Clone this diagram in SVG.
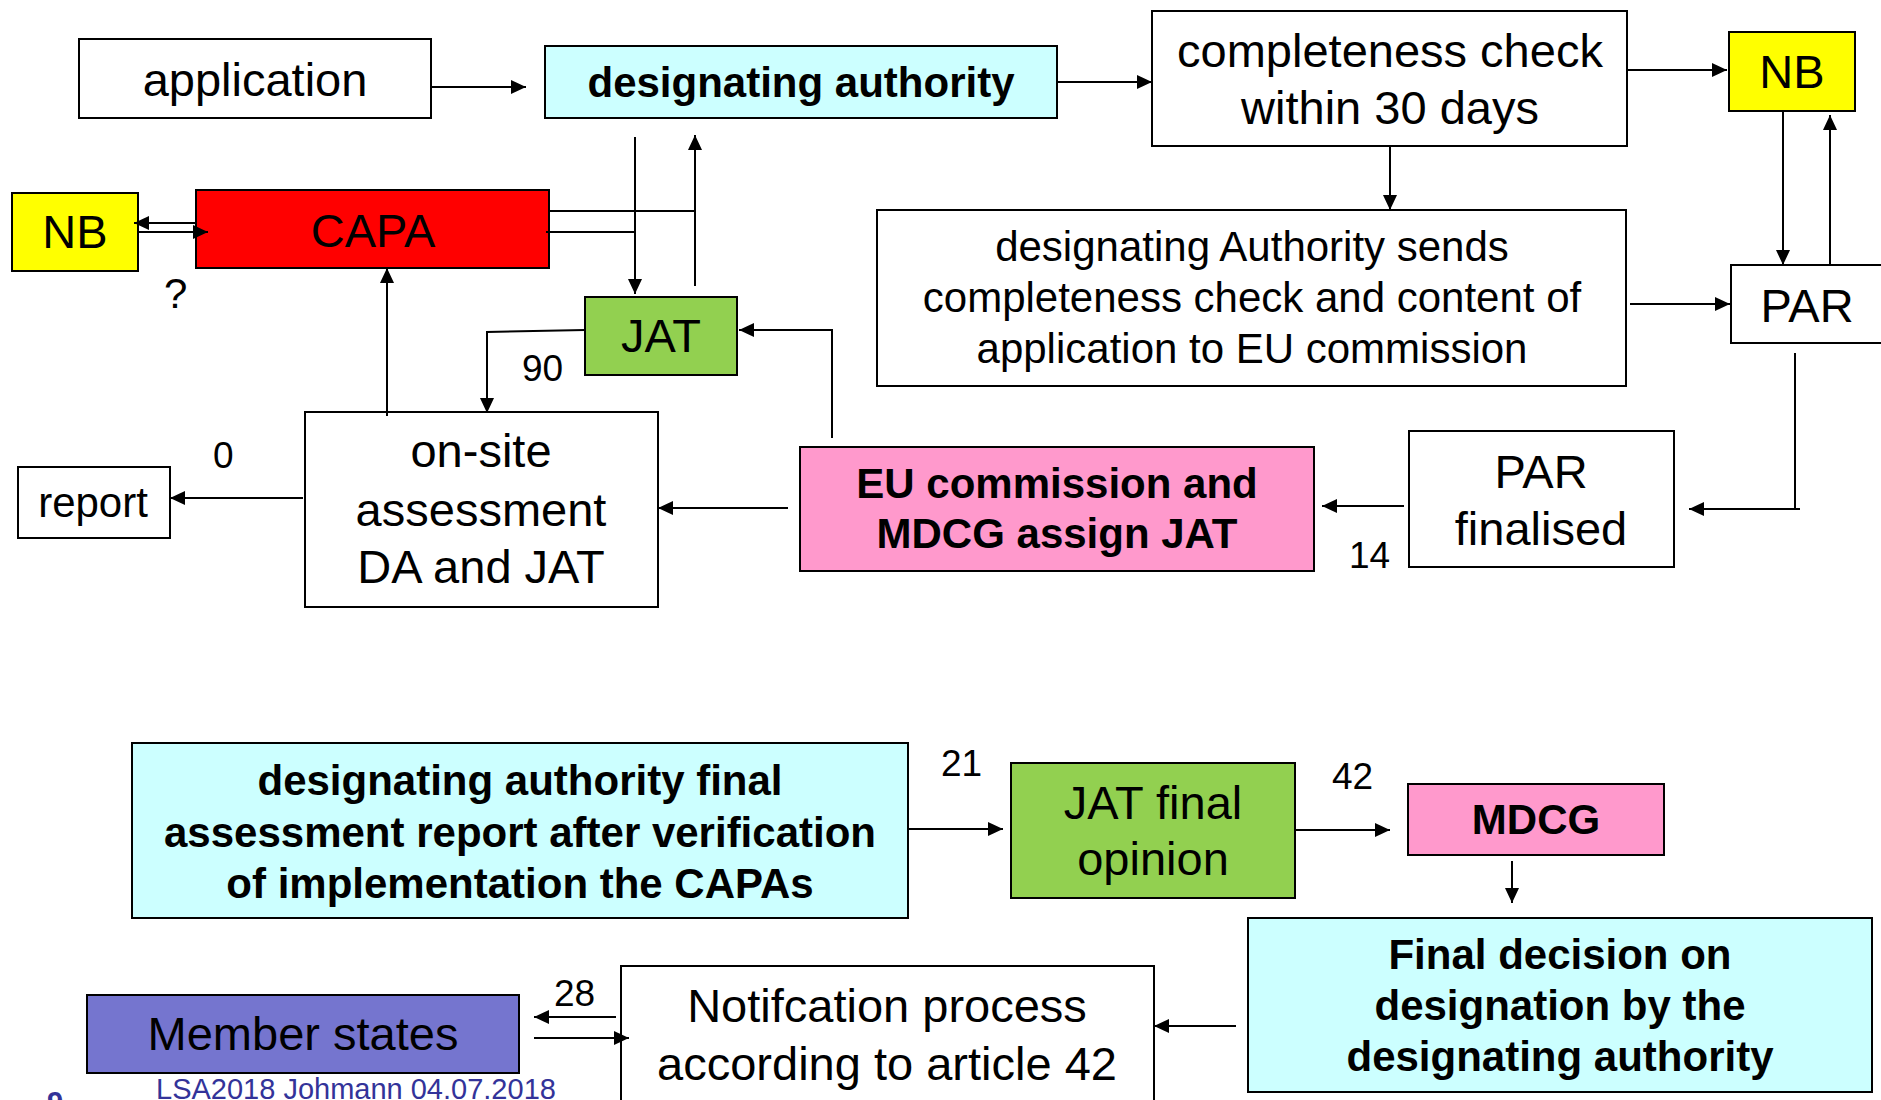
<svg xmlns="http://www.w3.org/2000/svg" width="1881" height="1100" viewBox="0 0 1881 1100">
  <style>
    .box { stroke: #000; stroke-width: 2; }
    .white { fill: #fff; }
    .cyan { fill: #ccffff; }
    .pink { fill: #ff99cc; }
    .green { fill: #92d050; }
    .red { fill: #ff0000; }
    .yellow { fill: #ffff00; }
    .violet { fill: #7575cf; }
    text { font-family: "Liberation Sans", Arial, sans-serif; fill: #000; text-anchor: middle; }
    .n { font-size: 47px; }
    .m { font-size: 42px; }
    .b { font-size: 42px; font-weight: bold; }
    .lbl { font-size: 37px; text-anchor: start; }
    .foot { font-size: 29px; fill: #333399; text-anchor: start; }
    .conn path { fill: none; stroke: #000; stroke-width: 2; }
  </style>
  <defs>
    <marker id="arrow" markerUnits="userSpaceOnUse" markerWidth="16" markerHeight="14" refX="15" refY="7" orient="auto">
      <path d="M0,0 L15,7 L0,14 z" fill="#000"/>
    </marker>
  </defs>

  <rect width="1881" height="1100" fill="#fff"/>

  <!-- upper process -->
  <g id="application">
    <rect class="box white" x="79" y="39" width="352" height="79"/>
    <text class="n" x="255" y="96">application</text>
  </g>
  <g id="designating-authority">
    <rect class="box cyan" x="545" y="46" width="512" height="72"/>
    <text class="b" x="801" y="97">designating authority</text>
  </g>
  <g id="completeness-check">
    <rect class="box white" x="1152" y="11" width="475" height="135"/>
    <text class="n" x="1390" y="67">completeness check</text>
    <text class="n" x="1390" y="124">within 30 days</text>
  </g>
  <g id="nb-top">
    <rect class="box yellow" x="1729" y="32" width="126" height="79"/>
    <text class="n" x="1792" y="88">NB</text>
  </g>
  <g id="par">
    <rect class="box white" x="1731" y="265" width="170" height="78"/>
    <text class="n" x="1807" y="322">PAR</text>
  </g>
  <g id="da-sends">
    <rect class="box white" x="877" y="210" width="749" height="176"/>
    <text class="m" x="1252" y="261">designating Authority sends</text>
    <text class="m" x="1252" y="312">completeness check and content of</text>
    <text class="m" x="1252" y="363">application to EU commission</text>
  </g>
  <g id="par-finalised">
    <rect class="box white" x="1409" y="431" width="265" height="136"/>
    <text class="n" x="1541" y="488">PAR</text>
    <text class="n" x="1541" y="545">finalised</text>
  </g>
  <g id="eu-commission">
    <rect class="box pink" x="800" y="447" width="514" height="124"/>
    <text class="b" x="1057" y="498">EU commission and</text>
    <text class="b" x="1057" y="548">MDCG assign JAT</text>
  </g>
  <g id="jat">
    <rect class="box green" x="585" y="297" width="152" height="78"/>
    <text class="n" x="661" y="352">JAT</text>
  </g>
  <g id="capa">
    <rect class="box red" x="196" y="190" width="353" height="78"/>
    <text class="n" x="373" y="247">CAPA</text>
  </g>
  <g id="nb-left">
    <rect class="box yellow" x="12" y="193" width="126" height="78"/>
    <text class="n" x="75" y="248">NB</text>
  </g>
  <g id="on-site">
    <rect class="box white" x="305" y="412" width="353" height="195"/>
    <text class="n" x="481" y="467">on-site</text>
    <text class="n" x="481" y="526">assessment</text>
    <text class="n" x="481" y="583">DA and JAT</text>
  </g>
  <g id="report">
    <rect class="box white" x="18" y="467" width="152" height="71"/>
    <text class="m" x="93" y="517">report</text>
  </g>

  <!-- lower process -->
  <g id="da-final">
    <rect class="box cyan" x="132" y="743" width="776" height="175"/>
    <text class="b" x="520" y="795">designating authority final</text>
    <text class="b" x="520" y="847">assessment report after verification</text>
    <text class="b" x="520" y="898">of implementation the CAPAs</text>
  </g>
  <g id="jat-final">
    <rect class="box green" x="1011" y="763" width="284" height="135"/>
    <text class="n" x="1153" y="819">JAT final</text>
    <text class="n" x="1153" y="875">opinion</text>
  </g>
  <g id="mdcg">
    <rect class="box pink" x="1408" y="784" width="256" height="71"/>
    <text class="b" x="1536" y="834">MDCG</text>
  </g>
  <g id="final-decision">
    <rect class="box cyan" x="1248" y="918" width="624" height="174"/>
    <text class="b" x="1560" y="969">Final decision on</text>
    <text class="b" x="1560" y="1020">designation by the</text>
    <text class="b" x="1560" y="1071">designating authority</text>
  </g>
  <g id="notification">
    <rect class="box white" x="621" y="966" width="533" height="200"/>
    <text class="n" x="887" y="1022">Notifcation process</text>
    <text class="n" x="887" y="1080">according to article 42</text>
  </g>
  <g id="member-states">
    <rect class="box violet" x="87" y="995" width="432" height="78"/>
    <text class="n" x="303" y="1050">Member states</text>
  </g>

  <!-- connectors -->
  <g id="connectors" class="conn">
    <path d="M431,87 H526" marker-end="url(#arrow)"/>
    <path d="M1057,82 H1152" marker-end="url(#arrow)"/>
    <path d="M1627,70 H1727" marker-end="url(#arrow)"/>
    <path d="M1390,146 V210" marker-end="url(#arrow)"/>
    <path d="M1783,111 V265" marker-end="url(#arrow)"/>
    <path d="M1830,265 V115" marker-end="url(#arrow)"/>
    <path d="M1630,304 H1730" marker-end="url(#arrow)"/>
    <path d="M1795,353 V509 M1800,509 H1689" marker-end="url(#arrow)"/>
    <path d="M1404,506 H1322" marker-end="url(#arrow)"/>
    <path d="M788,508 H658" marker-end="url(#arrow)"/>
    <path d="M832,438 V330 H739" marker-end="url(#arrow)"/>
    <path d="M585,330 L487,332 V413" marker-end="url(#arrow)"/>
    <path d="M387,416 V268" marker-end="url(#arrow)"/>
    <path d="M303,498 H170" marker-end="url(#arrow)"/>
    <path d="M196,223 H134" marker-end="url(#arrow)"/>
    <path d="M138,232 H208" marker-end="url(#arrow)"/>
    <path d="M546,232 H635"/>
    <path d="M635,137 V294" marker-end="url(#arrow)"/>
    <path d="M549,211 H695"/>
    <path d="M695,286 V135" marker-end="url(#arrow)"/>
    <path d="M908,829 H1003" marker-end="url(#arrow)"/>
    <path d="M1295,830 H1390" marker-end="url(#arrow)"/>
    <path d="M1512,861 V903" marker-end="url(#arrow)"/>
    <path d="M1236,1026 H1154" marker-end="url(#arrow)"/>
    <path d="M616,1017 H534" marker-end="url(#arrow)"/>
    <path d="M534,1038 H629" marker-end="url(#arrow)"/>
  </g>

  <!-- day counts and notes -->
  <g id="labels">
    <text class="lbl" x="164" y="308" style="font-size:42px">?</text>
    <text class="lbl" x="522" y="381">90</text>
    <text class="lbl" x="213" y="468">0</text>
    <text class="lbl" x="1349" y="568">14</text>
    <text class="lbl" x="941" y="776">21</text>
    <text class="lbl" x="1332" y="789">42</text>
    <text class="lbl" x="554" y="1006">28</text>
  </g>

  <!-- footer -->
  <text class="foot" x="156" y="1099">LSA2018 Johmann 04.07.2018</text>
  <text class="foot" x="47" y="1112" style="font-weight:bold">9</text>
</svg>
